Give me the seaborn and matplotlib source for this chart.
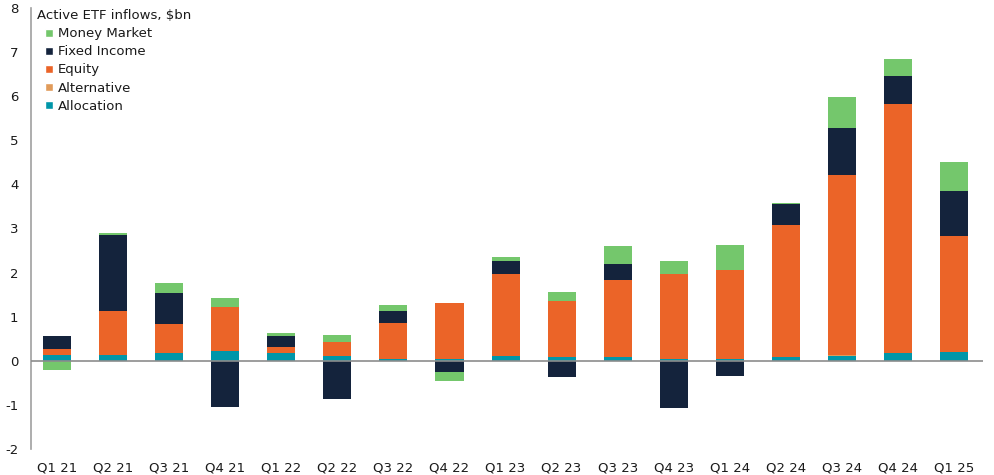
import numpy as np
import pandas as pd
import matplotlib
matplotlib.use('Agg')
import matplotlib.pyplot as plt
import seaborn as sns
from matplotlib.patches import Patch

# quarters and inflows per asset class ($bn)
quarters = ['Q1 21', 'Q2 21', 'Q3 21', 'Q4 21', 'Q1 22', 'Q2 22', 'Q3 22', 'Q4 22', 'Q1 23',
            'Q2 23', 'Q3 23', 'Q4 23', 'Q1 24', 'Q2 24', 'Q3 24', 'Q4 24', 'Q1 25']
allocation   = [0.13, 0.14, 0.17, 0.23, 0.18, 0.10, 0.05, 0.05, 0.11, 0.08, 0.08, 0.04, 0.05, 0.08, 0.11, 0.18, 0.20]
alternative  = [0.00, 0.00, 0.00, 0.00, 0.00, 0.00, 0.00, 0.00, 0.00, 0.00, 0.00, 0.00, 0.00, 0.01, 0.01, 0.00, 0.00]
equity       = [0.13, 0.99, 0.67, 0.98, 0.12, 0.33, 0.81, 1.25, 1.85, 1.28, 1.74, 1.93, 2.01, 3.00, 4.09, 5.65, 2.63]
fixed_income = [0.30, 1.73, 0.70, -1.04, 0.26, -0.86, 0.27, -0.25, 0.30, -0.38, 0.38, -1.08, -0.35, 0.47, 1.08, 0.62, 1.03]
money_market = [-0.20, 0.03, 0.22, 0.21, 0.07, 0.16, 0.13, -0.20, 0.10, 0.21, 0.40, 0.29, 0.56, 0.02, 0.69, 0.39, 0.65]

series = [('Allocation', allocation, '#0096A9'),
          ('Alternative', alternative, '#E19B5A'),
          ('Equity', equity, '#EB6428'),
          ('Fixed Income', fixed_income, '#14233C'),
          ('Money Market', money_market, '#74C76C')]

sns.set_style('white')
plt.rcParams['font.family'] = ['DejaVu Sans']
plt.rcParams['axes.unicode_minus'] = False

fig = plt.figure(figsize=(9.94, 4.75), dpi=100)
ax = fig.add_axes([0.031, 0.055, 0.958, 0.928])

# stack positives upwards and negatives downwards separately
pos_base = np.zeros(len(quarters))
neg_base = np.zeros(len(quarters))
for name, vals, color in series:
    vals = np.array(vals)
    bottom = np.where(vals >= 0, pos_base, neg_base)
    sns.barplot(x=quarters, y=vals, bottom=bottom, color=color, width=0.5,
                edgecolor='none', linewidth=0, ax=ax, saturation=1)
    pos_base = pos_base + np.clip(vals, 0, None)
    neg_base = neg_base + np.clip(vals, None, 0)

ax.axhline(0, color='#8c8c8c', linewidth=1.2, zorder=5)

ax.set_ylim(-2, 8)
ax.set_xlim(-0.47, 16.52)
ax.set_yticks(range(-2, 9))
ax.set_xlabel('')
ax.set_ylabel('')

for side in ['top', 'right', 'bottom']:
    ax.spines[side].set_visible(False)
ax.spines['left'].set_color('#a0a0a0')
ax.spines['left'].set_linewidth(1.2)
ax.tick_params(axis='both', length=0, labelsize=9.5, colors='#1a1a1a')
ax.tick_params(axis='x', pad=9)
ax.tick_params(axis='y', pad=9)

# legend title as plain text, entries indented under it
ax.text(0.0063, 0.984, 'Active ETF inflows, $bn', transform=ax.transAxes,
        ha='left', va='center', fontsize=9.5, color='#1a1a1a')
handles = [Patch(facecolor=c, label=n) for n, v, c in series[::-1]]
leg = ax.legend(handles=handles, loc='upper left', bbox_to_anchor=(0.0147, 0.956),
                frameon=False, fontsize=9.5, borderpad=0, borderaxespad=0,
                handlelength=0.6, handleheight=0.6, handletextpad=0.4, labelspacing=0.38)
for t in leg.get_texts():
    t.set_color('#1a1a1a')

fig.savefig('out.png', dpi=100)
